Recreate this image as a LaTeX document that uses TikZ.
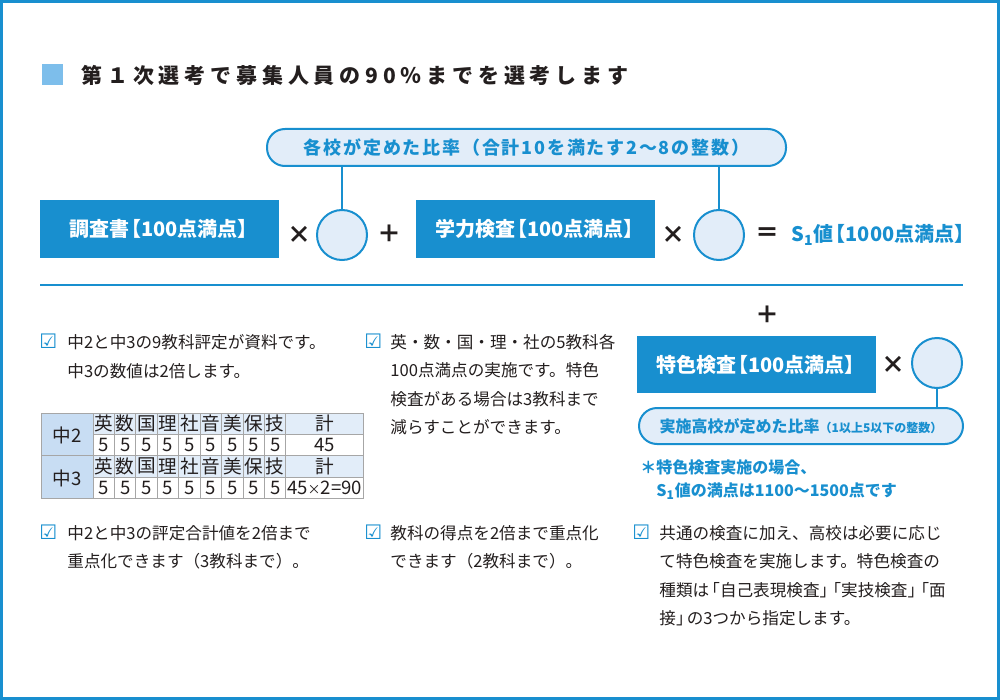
\documentclass[tikz,border=0pt]{standalone}
\usepackage{fontspec}
\setmainfont{Noto Sans CJK JP}
\newfontfamily\symfont{DejaVu Sans}
\definecolor{mainblue}{RGB}{24,143,207}
\definecolor{lightblue}{RGB}{226,237,249}
\definecolor{titleblue}{RGB}{125,190,235}
\definecolor{tabblue}{RGB}{200,221,243}
\definecolor{ink}{RGB}{35,30,30}
\newcommand\openbr{\kern-0.4em【}
\newcommand\closebr{】\kern-0.4em}
\newcommand\openq{\kern-0.35em「}
\newcommand\closeq{」\kern-0.35em}
\tikzset{
  frame/.style={draw=mainblue, line width=1.5pt},
  titletext/.style={inner sep=0pt, text=ink, font=\bfseries\fontsize{10.5}{12}\selectfont\addfontfeature{LetterSpace=23}},
  scorebox/.style={fill=mainblue, text=white, inner sep=0pt, minimum width=119.5pt, minimum height=29pt, font=\bfseries\fontsize{10}{12}\selectfont},
  ratio/.style={circle, draw=mainblue, fill=lightblue, line width=1pt, minimum size=25pt, inner sep=0pt},
  ratiopill/.style={draw=mainblue, fill=lightblue, line width=1pt, rounded corners=9pt, text=mainblue, inner sep=0pt, minimum width=259.5pt, minimum height=18.5pt, font=\bfseries\fontsize{9}{11}\selectfont\addfontfeature{LetterSpace=10}},
  op/.style={inner sep=0pt, text=ink, font=\bfseries\fontsize{12}{14}\selectfont},
  link/.style={draw=mainblue, line width=1pt},
  result/.style={inner sep=0pt, text=mainblue, font=\bfseries\fontsize{10}{12}\selectfont},
  note/.style={anchor=base west, align=left, inner sep=0pt, text=mainblue, font=\bfseries\fontsize{8}{11.5}\selectfont},
  body/.style={anchor=base west, align=left, inner sep=0pt, text=ink, font=\fontsize{8.3}{14.25}\selectfont},
  check/.style={anchor=base west, inner sep=0pt, text=mainblue, font=\symfont\fontsize{10}{10}\selectfont},
  grid/.style={draw=gray!70, line width=0.5pt},
  cell/.style={inner sep=0pt, text=ink, font=\fontsize{9.3}{10}\selectfont}
}
\begin{document}
\begin{tikzpicture}[x=0.5pt,y=-0.5pt]
\useasboundingbox (0,0) rectangle (1000,700);
\draw[frame] (1.5,1.5) rectangle (998.5,698.5);

% title
\fill[titleblue] (42,64) rectangle (63,85);
\node[titletext, anchor=west] (title) at (81,75) {第１次選考で募集人員の90％までを選考します};

% first formula
\node[ratiopill] (pill1) at (526.5,147.5) {各校が定めた比率（合計10を満たす2〜8の整数）};
\node[scorebox] (survey) at (159.5,229) {調査書\openbr 100点満点\closebr};
\node[op] (times1) at (299,235) {×};
\node[ratio] (c1) at (342,235) {};
\node[op] (plus1) at (389,234) {＋};
\node[scorebox] (academic) at (535.5,229) {学力検査\openbr 100点満点\closebr};
\node[op] (times2) at (673,235) {×};
\node[ratio] (c2) at (719,235) {};
\node[op] (eq) at (767,235) {＝};
\node[result, anchor=west] (s1) at (791,235) {S\textsubscript{1}値\openbr 1000点満点\closebr};
\draw[link] (c1.north) -- (c1.north |- pill1.south);
\draw[link] (c2.north) -- (c2.north |- pill1.south);

\draw[mainblue, line width=1pt] (40,285) -- (963,285);

% special exam
\node[op] (plus2) at (767,315) {＋};
\node[scorebox, minimum height=28.5pt] (special) at (756.5,364.5) {特色検査\openbr 100点満点\closebr};
\node[op] (times3) at (893,365) {×};
\node[ratio] (c3) at (937,363) {};
\node[ratiopill, minimum width=162pt, minimum height=18pt, rounded corners=9pt, font=\bfseries\fontsize{8}{10}\selectfont] (pill2) at (801,426)
  {実施高校が定めた比率{\fontsize{6}{7}\selectfont（1以上5以下の整数）}};
\draw[link] (c3.south) -- (c3.south |- pill2.north);
% base of a node with lines = last line
\node[note] (note) at (640,496) {＊特色検査実施の場合、\\\hspace*{1em}S\textsubscript{1}値の満点は1100〜1500点です};

% items
\node[check] (k1) at (39,348) {☑};
\node[body] (t1) at (67,377) {中2と中3の9教科評定が資料です。\\中3の数値は2倍します。};
\node[check] (k2) at (364,348) {☑};
\node[body] (t2) at (390,433.5) {英・数・国・理・社の5教科各\\100点満点の実施です。特色\\検査がある場合は3教科まで\\減らすことができます。};
\node[check] (k3) at (39,539) {☑};
\node[body] (t3) at (67,567.5) {中2と中3の評定合計値を2倍まで\\重点化できます（3教科まで）。};
\node[check] (k4) at (364,539) {☑};
\node[body] (t4) at (390,567.5) {教科の得点を2倍まで重点化\\できます（2教科まで）。};
\node[check] (k5) at (632,539) {☑};
\node[body] (t5) at (659,624.5) {共通の検査に加え、高校は必要に応じ\\て特色検査を実施します。特色検査の\\種類は\openq 自己表現検査\closeq\openq 実技検査\closeq\openq 面\\接\closeq の3つから指定します。};

% table
\fill[tabblue] (41,413) rectangle (93,498);
\fill[lightblue] (93,413) rectangle (363,434.5) (93,455.5) rectangle (363,477);
\draw[grid] (41,413) rectangle (363,498);
\draw[grid] (41,455.5) -- (363,455.5);
\foreach \y in {434.5,477} \draw[grid] (93,\y) -- (363,\y);
\foreach \i in {0,...,9} \draw[grid] (93+21.44*\i,413) -- (93+21.44*\i,498);
\node[cell] (g2) at (67,435.5) {中2};
\node[cell] (g3) at (67,478) {中3};
\foreach \s [count=\i] in {英,数,国,理,社,音,美,保,技} {
  \node[cell] (a\i) at (93+21.44*\i-10.72,423.75) {\s};
  \node[cell] (p\i) at (93+21.44*\i-10.72,445) {5};
  \node[cell] (b\i) at (93+21.44*\i-10.72,466.25) {\s};
  \node[cell] (q\i) at (93+21.44*\i-10.72,487.5) {5};
}
\node[cell] (sum2h) at (324.5,423.75) {計};
\node[cell] (sum2) at (324.5,445) {45};
\node[cell] (sum3h) at (324.5,466.25) {計};
\node[cell] (sum3) at (324.5,487.5) {45{\fontsize{6.5}{7}\selectfont ×}2=90};
\end{tikzpicture}
\end{document}
